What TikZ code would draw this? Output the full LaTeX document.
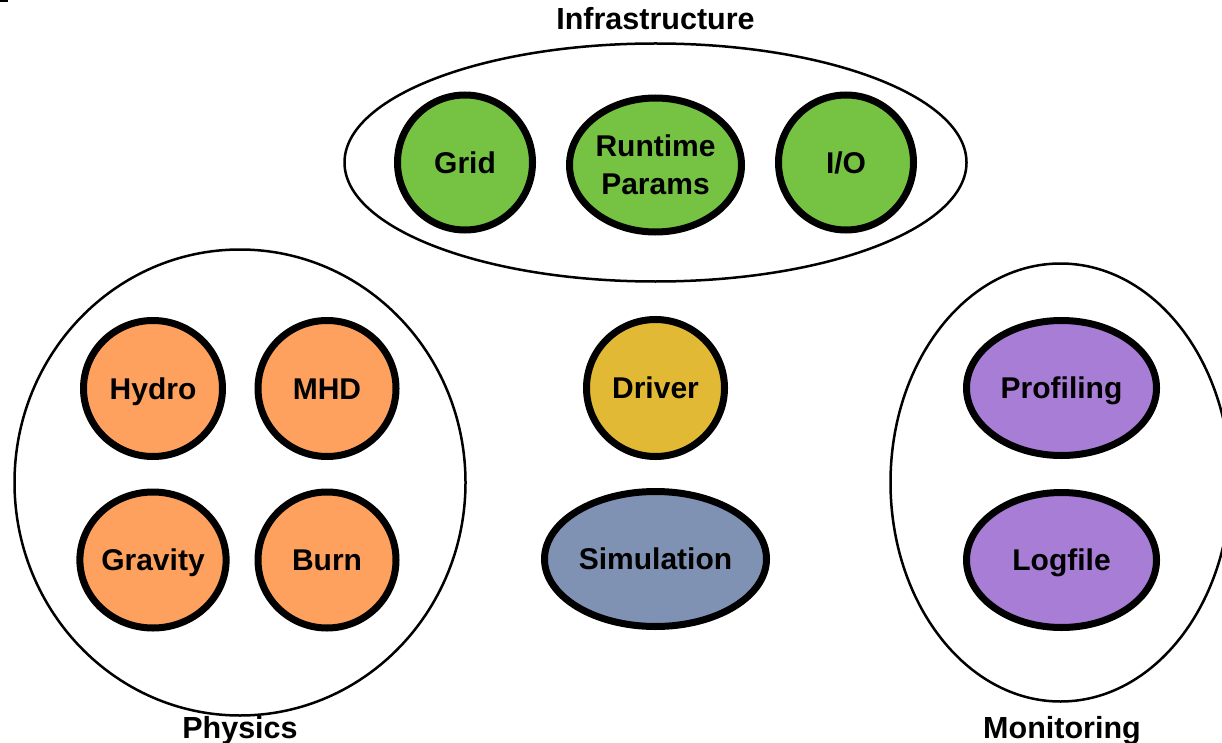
\documentclass[tikz,border=0pt]{standalone}
\usepackage{fontspec}
\setmainfont{Liberation Sans}
\usetikzlibrary{shapes.geometric}
\definecolor{cgreen}{RGB}{118,195,68}
\definecolor{corange}{RGB}{255,161,94}
\definecolor{cgold}{RGB}{226,185,52}
\definecolor{cblue}{RGB}{127,146,180}
\definecolor{cpurple}{RGB}{167,125,214}
\tikzset{
  grp/.style={draw=black, line width=2.5pt, ellipse, inner sep=0pt},
  mod/.style={draw=black, line width=7pt, ellipse, inner sep=0pt, align=center,
    font=\fontsize{30}{38}\selectfont\bfseries, text=black},
  oneline/.style={text height=21.5pt, text depth=0pt},
  grplabel/.style={font=\fontsize{30.5}{34}\selectfont\bfseries, inner sep=0pt,
    text height=21.5pt, text depth=0pt},
}
\begin{document}
\begin{tikzpicture}[x=1pt,y=-1pt]
\useasboundingbox (0,0) rectangle (1222,743);
\fill[black] (0,0) rectangle (8,2.5);
% groups
\node[grp, minimum width=622pt, minimum height=238pt] (infra) at (655.5,162.5) {};
\node[grp, minimum width=451pt, minimum height=466pt] (phys) at (240,482.5) {};
\node[grp, minimum width=340pt, minimum height=438pt] (moni) at (1060.5,482.5) {};
% labels
\node[grplabel] (linfra) at (655.5,19) {Infrastructure};
\node[grplabel] (lphys) at (240,728) {Physics};
\node[grplabel] (lmoni) at (1062,728) {Monitoring};
% infrastructure
\node[mod, oneline, fill=cgreen, minimum width=135pt, minimum height=135pt] (grid) at (465,162.5) {Grid};
\node[mod, fill=cgreen, minimum width=172pt, minimum height=134pt] (rt) at (655.5,165) {Runtime\\Params};
\node[mod, oneline, fill=cgreen, minimum width=135pt, minimum height=135pt] (io) at (846,162.5) {I/O};
% physics
\node[mod, oneline, fill=corange, minimum width=139pt, minimum height=136pt] (hydro) at (153,388.5) {Hydro};
\node[mod, oneline, fill=corange, minimum width=138pt, minimum height=136pt] (mhd) at (327,388.5) {MHD};
\node[mod, oneline, fill=corange, minimum width=139pt, minimum height=136pt] (grav) at (153,560) {Gravity};
\node[mod, oneline, fill=corange, minimum width=138pt, minimum height=136pt] (burn) at (327,560) {Burn};
% center
\node[mod, oneline, fill=cgold, minimum width=138pt, minimum height=137pt] (drv) at (655.5,388) {Driver};
\node[mod, oneline, fill=cblue, minimum width=222pt, minimum height=135pt] (sim) at (655.5,559) {Simulation};
% monitoring
\node[mod, oneline, fill=cpurple, minimum width=190pt, minimum height=135pt] (prof) at (1061.5,388) {Profiling};
\node[mod, oneline, fill=cpurple, minimum width=190pt, minimum height=135pt] (log) at (1061.5,560) {Logfile};
\end{tikzpicture}
\end{document}
